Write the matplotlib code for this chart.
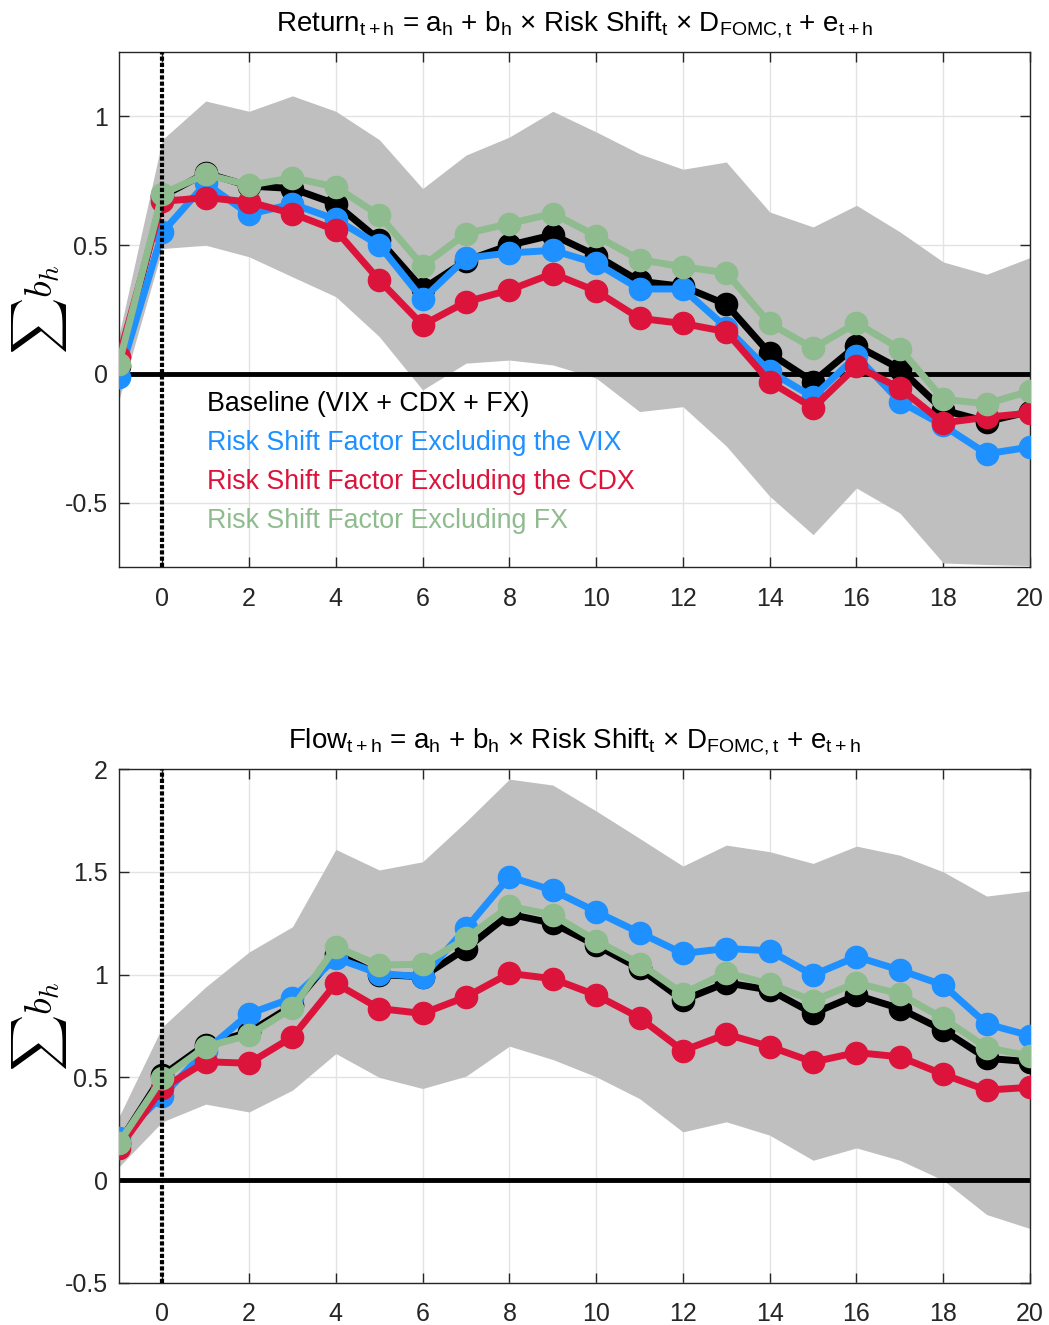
import numpy as np
import matplotlib
matplotlib.use("Agg")
import matplotlib.pyplot as plt
from matplotlib.lines import Line2D

plt.rcParams['font.family'] = ['Liberation Sans', 'DejaVu Sans']
plt.rcParams['mathtext.fontset'] = 'custom'
plt.rcParams['mathtext.rm'] = 'Liberation Sans'
plt.rcParams['mathtext.it'] = 'Liberation Sans:italic'

horizons = list(range(-1, 21))

# top panel: returns
ret_baseline = [0.03, 0.69, 0.78, 0.73, 0.72, 0.66, 0.52, 0.33, 0.44, 0.50, 0.54, 0.46,
                0.36, 0.34, 0.27, 0.08, -0.03, 0.11, 0.02, -0.14, -0.185, -0.146]
ret_no_vix = [-0.01, 0.55, 0.74, 0.62, 0.66, 0.60, 0.50, 0.29, 0.45, 0.47, 0.48, 0.43,
              0.33, 0.33, 0.18, 0.01, -0.09, 0.07, -0.107, -0.20, -0.31, -0.284]
ret_no_cdx = [0.065, 0.67, 0.685, 0.668, 0.623, 0.558, 0.364, 0.19, 0.28, 0.326, 0.39, 0.322,
              0.216, 0.196, 0.164, -0.03, -0.132, 0.03, -0.055, -0.19, -0.168, -0.152]
ret_no_fx = [0.04, 0.70, 0.775, 0.733, 0.762, 0.726, 0.616, 0.42, 0.545, 0.584, 0.623, 0.536,
             0.444, 0.416, 0.393, 0.196, 0.10, 0.198, 0.098, -0.098, -0.116, -0.066]
ret_upper = [0.15, 0.91, 1.06, 1.02, 1.08, 1.02, 0.91, 0.72, 0.85, 0.92, 1.02, 0.94,
             0.855, 0.795, 0.823, 0.629, 0.571, 0.655, 0.552, 0.435, 0.387, 0.452]
ret_lower = [-0.10, 0.487, 0.50, 0.455, 0.377, 0.30, 0.145, -0.062, 0.042, 0.054, 0.035, -0.016,
             -0.146, -0.127, -0.28, -0.475, -0.624, -0.443, -0.54, -0.734, -0.74, -0.744]

# bottom panel: flows
flow_baseline = [0.18, 0.51, 0.66, 0.72, 0.85, 1.10, 1.00, 0.99, 1.127, 1.294, 1.25, 1.143,
                 1.03, 0.876, 0.96, 0.925, 0.811, 0.90, 0.835, 0.73, 0.593, 0.576]
flow_no_vix = [0.204, 0.41, 0.63, 0.81, 0.886, 1.08, 1.005, 0.99, 1.225, 1.476, 1.41, 1.306,
               1.204, 1.103, 1.127, 1.116, 0.998, 1.087, 1.022, 0.949, 0.76, 0.703]
flow_no_cdx = [0.156, 0.447, 0.576, 0.569, 0.697, 0.957, 0.835, 0.811, 0.892, 1.006, 0.98, 0.90,
               0.79, 0.63, 0.71, 0.65, 0.575, 0.621, 0.60, 0.515, 0.438, 0.452]
flow_no_fx = [0.181, 0.496, 0.649, 0.706, 0.837, 1.135, 1.046, 1.051, 1.176, 1.333, 1.29, 1.165,
              1.054, 0.908, 1.009, 0.954, 0.873, 0.96, 0.905, 0.787, 0.645, 0.604]
flow_upper = [0.308, 0.746, 0.94, 1.11, 1.233, 1.609, 1.509, 1.549, 1.744, 1.951, 1.922, 1.796,
              1.663, 1.528, 1.63, 1.598, 1.541, 1.625, 1.581, 1.50, 1.382, 1.408]
flow_lower = [0.065, 0.284, 0.37, 0.332, 0.438, 0.616, 0.50, 0.446, 0.506, 0.652, 0.587, 0.503,
              0.397, 0.235, 0.284, 0.219, 0.097, 0.157, 0.097, 0.0, -0.167, -0.235]

labels = ['Baseline (VIX + CDX + FX)', 'Risk Shift Factor Excluding the VIX',
          'Risk Shift Factor Excluding the CDX', 'Risk Shift Factor Excluding FX']
colors = ['black', '#1E90FF', '#DC143C', '#8FBC8F']

titles = [r'Return$_{\mathrm{t+h}}$ = a$_{\mathrm{h}}$ + b$_{\mathrm{h}}$ $\times$ Risk Shift$_{\mathrm{t}}$'
          r' $\times$ D$_{\mathrm{FOMC,t}}$ + e$_{\mathrm{t+h}}$',
          r'Flow$_{\mathrm{t+h}}$ = a$_{\mathrm{h}}$ + b$_{\mathrm{h}}$ $\times$ Risk Shift$_{\mathrm{t}}$'
          r' $\times$ D$_{\mathrm{FOMC,t}}$ + e$_{\mathrm{t+h}}$']

fig = plt.figure(figsize=(10.49, 13.25), dpi=100)
ax1 = fig.add_axes([0.1134, 0.572, 0.8685, 0.3887])
ax2 = fig.add_axes([0.1134, 0.0317, 0.8685, 0.3879])

panels = [
    (ax1, [ret_baseline, ret_no_vix, ret_no_cdx, ret_no_fx], ret_upper, ret_lower,
     (-0.75, 1.25), [-0.5, 0, 0.5, 1], ['-0.5', '0', '0.5', '1']),
    (ax2, [flow_baseline, flow_no_vix, flow_no_cdx, flow_no_fx], flow_upper, flow_lower,
     (-0.5, 2), [-0.5, 0, 0.5, 1, 1.5, 2], ['-0.5', '0', '0.5', '1', '1.5', '2']),
]

for i, (ax, series, up, lo, ylim, yt, ytl) in enumerate(panels):
    ax.set_axisbelow(True)
    ax.grid(True, color='#e3e3e3', lw=1)
    ax.fill_between(horizons, lo, up, color='#bfbfbf', lw=0, zorder=1)
    ax.axhline(0, color='black', lw=3.5, zorder=2)
    for s, c in zip(series, colors):
        ax.plot(horizons, s, '-o', color=c, lw=5, ms=16, zorder=3)
    ax.axvline(0, color='black', lw=3, ls=(0, (1.0, 0.5)), zorder=5)
    ax.set_xlim(-1, 20)
    ax.set_ylim(*ylim)
    ax.set_xticks(range(0, 21, 2))
    ax.set_yticks(yt)
    ax.set_yticklabels(ytl)
    ax.tick_params(direction='in', length=7, width=1, top=True, right=True,
                   labelsize=18, colors='#262626', pad=8)
    ax.tick_params(axis='x', pad=14)
    for sp in ax.spines.values():
        sp.set_color('#262626')
        sp.set_linewidth(1)
    ax.set_title(titles[i], fontsize=20, pad=15)
    ax.set_ylabel(r'$\sum b_h$', fontsize=28, math_fontfamily='cm')
    ax.yaxis.set_label_coords(-0.055, 0.5)

handles = [Line2D([], [], color=c, ls='none') for c in colors]
ax1.legend(handles, labels, loc='upper left', bbox_to_anchor=(0.097, 0.342), frameon=False,
           handlelength=0, handletextpad=0, borderpad=0, borderaxespad=0,
           labelspacing=0.48, fontsize=19.3, labelcolor=colors)

fig.savefig('out.png', dpi=100)
